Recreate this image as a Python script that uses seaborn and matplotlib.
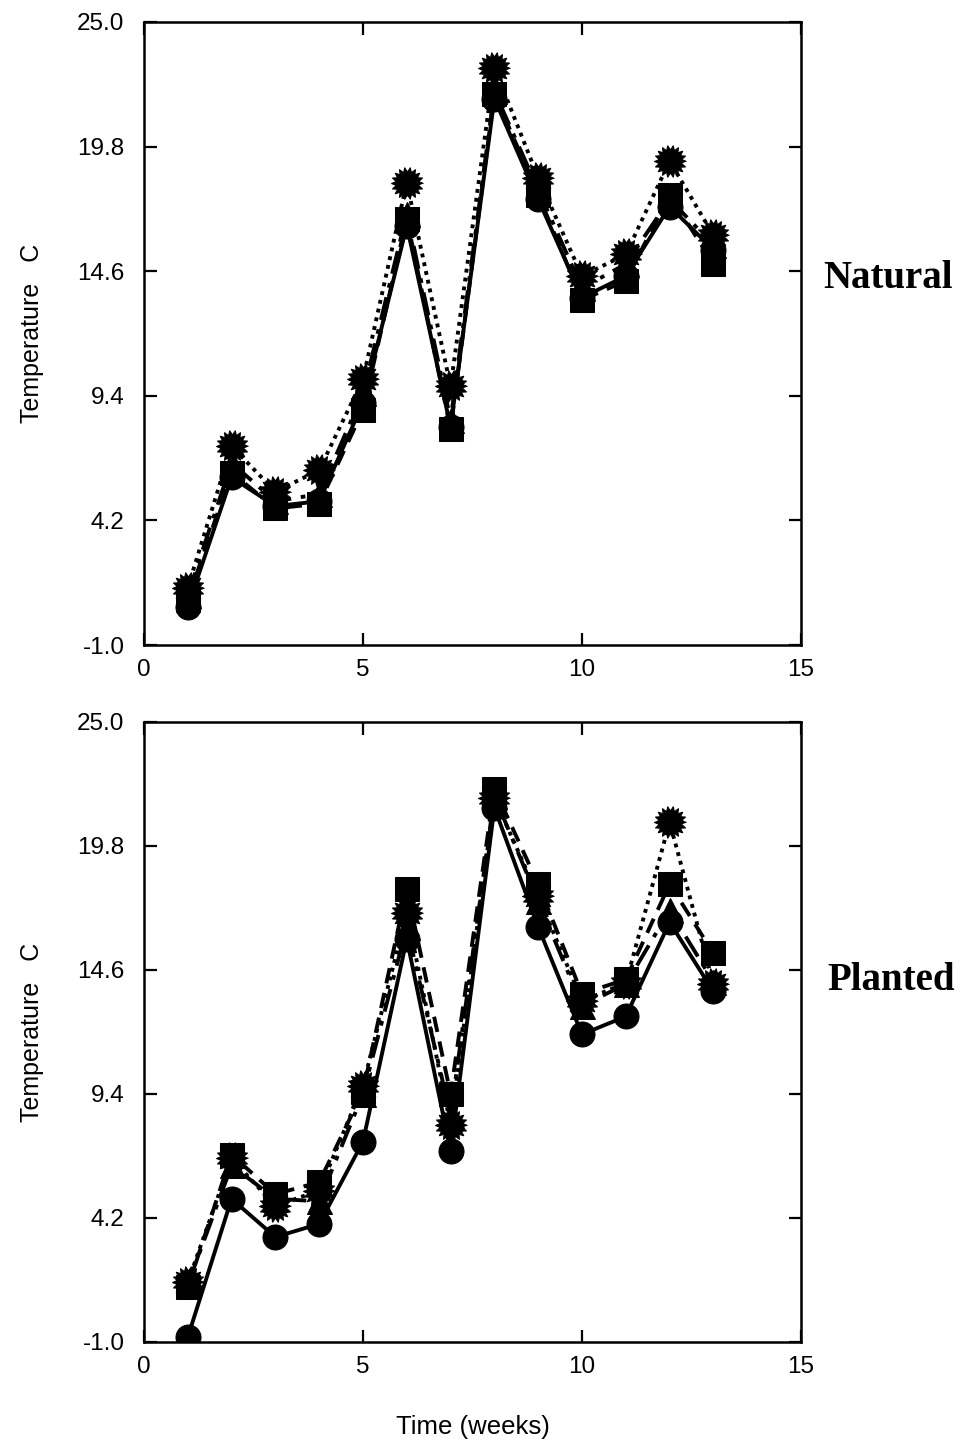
import numpy as np
import pandas as pd
import matplotlib
matplotlib.use("Agg")
import matplotlib.pyplot as plt
import seaborn as sns

# ---------------- data ----------------
weeks = [1, 2, 3, 4, 5, 6, 7, 8, 9, 10, 11, 12, 13]

nat_circle   = [0.6, 6.0, 4.8, 5.0, 9.1, 16.5, 8.1, 21.8, 17.6, 13.5, 14.4, 17.3, 15.5]
nat_triangle = [1.1, 6.6, 5.0, 5.3, 9.5, 17.0, 8.4, 22.1, 18.0, 13.9, 14.9, 17.6, 15.7]
nat_square   = [0.9, 6.2, 4.7, 4.9, 8.8, 16.8, 8.0, 22.0, 17.8, 13.4, 14.2, 17.8, 14.9]
nat_star     = [1.4, 7.3, 5.4, 6.3, 10.1, 18.3, 9.8, 23.1, 18.5, 14.4, 15.3, 19.2, 16.1]

pla_circle   = [-0.8, 5.0, 3.4, 3.95, 7.4, 15.9, 7.0, 21.4, 16.4, 11.9, 12.65, 16.6, 13.7]
pla_triangle = [1.4, 6.4, 5.0, 4.9, 9.4, 16.4, 8.5, 21.9, 17.5, 13.1, 14.0, 17.1, 14.1]
pla_square   = [1.3, 6.85, 5.2, 5.7, 9.5, 18.0, 9.4, 22.2, 18.2, 13.6, 14.2, 18.2, 15.3]
pla_star     = [1.5, 6.7, 4.7, 5.35, 9.75, 17.0, 8.1, 21.8, 17.7, 13.3, 14.05, 20.8, 14.0]

x_ticks = [0, 5, 10, 15]
y_ticks = [-1.0, 4.2, 9.4, 14.6, 19.8, 25.0]
y_tick_labels = ["-1.0", "4.2", "9.4", "14.6", "19.8", "25.0"]
panel_labels = ["Natural", "Planted"]

# ---------------- style ----------------
sns.set_theme(style="white")
plt.rcParams["font.family"] = ["Liberation Sans", "DejaVu Sans"]
plt.rcParams["text.color"] = "black"
plt.rcParams["axes.labelcolor"] = "black"

# sunburst marker (many short spikes)
n_sp = 18
ang = np.linspace(0, 2 * np.pi, 2 * n_sp, endpoint=False)
rad = np.where(np.arange(2 * n_sp) % 2 == 0, 1.0, 0.72)
burst = list(zip(rad * np.cos(ang), rad * np.sin(ang)))

fig = plt.figure(figsize=(9.63, 14.47), dpi=100)
ax1 = fig.add_axes([0.1495, 0.5542, 0.6823, 0.4306])
ax2 = fig.add_axes([0.1495, 0.0726, 0.6823, 0.4285])

def draw(ax, circ, tri, sq, star):
    common = dict(color="black", lw=2.8, mec="black", mfc="black")
    sns.lineplot(x=weeks, y=star, ax=ax, marker=burst, markersize=23,
                 linestyle=(0, (1, 1.3)), **common)
    sns.lineplot(x=weeks, y=tri, ax=ax, marker="^", markersize=18,
                 linestyle=(0, (6, 2.5, 1.2, 2.5)), **common)
    sns.lineplot(x=weeks, y=circ, ax=ax, marker="o", markersize=18,
                 linestyle="-", **common)
    sns.lineplot(x=weeks, y=sq, ax=ax, marker="s", markersize=17,
                 linestyle=(0, (4, 2.5)), **common)
    ax.set_xlim(0, 15)
    ax.set_ylim(-1.0, 25.0)
    ax.set_xticks(x_ticks)
    ax.set_yticks(y_ticks)
    ax.set_yticklabels(y_tick_labels)
    ax.tick_params(direction="in", length=9, width=1.6, top=True, right=True,
                   bottom=True, left=True, labelsize=17.5, colors="black")
    ax.tick_params(axis="y", pad=14)
    ax.tick_params(axis="x", pad=10)
    for s in ax.spines.values():
        s.set_visible(True)
        s.set_color("black")
        s.set_linewidth(1.8)
    ax.set_ylabel("Temperature   C", fontsize=18, labelpad=24, color="black")
    ax.set_xlabel("")
    ax.grid(False)

draw(ax1, nat_circle, nat_triangle, nat_square, nat_star)
draw(ax2, pla_circle, pla_triangle, pla_square, pla_star)
ax2.set_xlabel("Time (weeks)", fontsize=18.5, labelpad=27, color="black")

fig.text(0.922, 1 - 278 / 1447, panel_labels[0], fontsize=28, fontweight="bold",
         family="Liberation Serif", ha="center", va="center", color="black")
fig.text(0.925, 1 - 980 / 1447, panel_labels[1], fontsize=28, fontweight="bold",
         family="Liberation Serif", ha="center", va="center", color="black")

fig.savefig("out.png", dpi=100, facecolor="white")
